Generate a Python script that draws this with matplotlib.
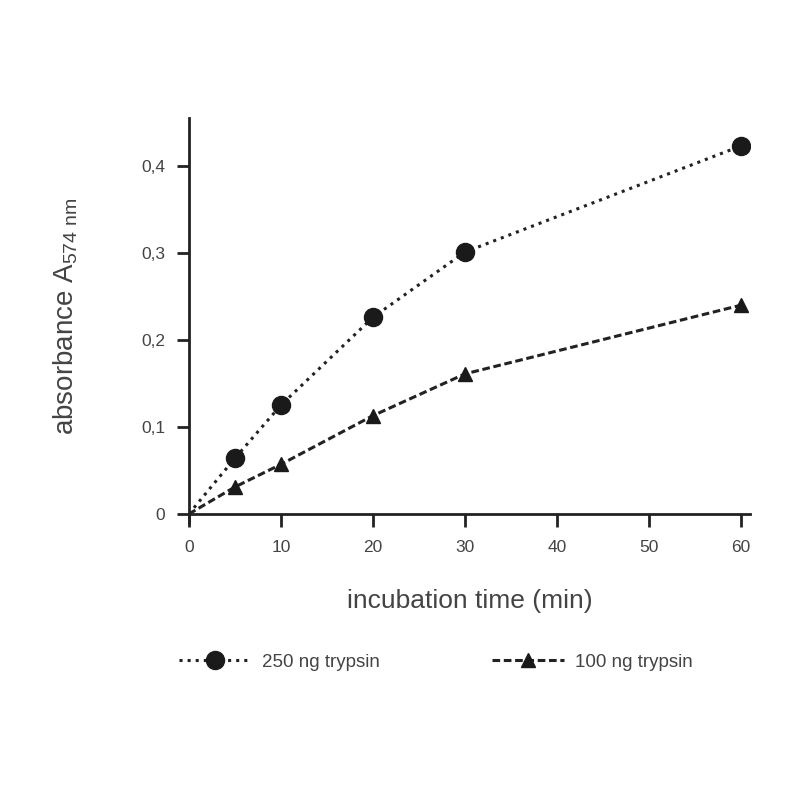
import numpy as np
import matplotlib.pyplot as plt

# incubation times (min) and absorbance readings
time_min = [0, 5, 10, 20, 30, 60]
abs_250 = [0.0, 0.064, 0.125, 0.226, 0.301, 0.423]
abs_100 = [0.0, 0.031, 0.057, 0.113, 0.161, 0.240]
labels = ['250 ng trypsin', '100 ng trypsin']
xticks = [0, 10, 20, 30, 40, 50, 60]
yticks = [0, 0.1, 0.2, 0.3, 0.4]
ytick_labels = ['0', '0,1', '0,2', '0,3', '0,4']

plt.rcParams['font.family'] = ['Liberation Sans', 'DejaVu Sans']
text_col = '#444444'

fig = plt.figure(figsize=(8, 8), dpi=100)
ax = fig.add_axes([0.236, 0.3575, 0.702, 0.495])

# line part (through origin) and markers (measured points only)
l1, = ax.plot(time_min, abs_250, ':', color='#222222', lw=2.2)
l2, = ax.plot(time_min, abs_100, '--', color='#222222', lw=2.2, dashes=(2.5, 1.2))
m1, = ax.plot(time_min[1:], abs_250[1:], 'o', color='#1a1a1a', ms=13)
m2, = ax.plot(time_min[1:], abs_100[1:], '^', color='#1a1a1a', ms=10)

ax.set_xlim(0, 61)
ax.set_ylim(0, 0.455)
ax.set_xticks(xticks)
ax.set_yticks(yticks)
ax.set_yticklabels(ytick_labels)
for sp in ['top', 'right']:
    ax.spines[sp].set_visible(False)
for sp in ['left', 'bottom']:
    ax.spines[sp].set_linewidth(2)
    ax.spines[sp].set_color('#222222')
ax.spines['left'].set_bounds(-0.01, 0.455)
ax.tick_params(width=2, length=9, color='#222222', labelsize=12.5,
               labelcolor=text_col)
ax.tick_params(axis='x', pad=10)
ax.tick_params(axis='y', pad=8)

ax.set_xlabel('incubation time (min)', fontsize=19, color=text_col, labelpad=24)
ax.set_ylabel(r'absorbance $\mathregular{A_{574\ nm}}$', fontsize=20,
              color=text_col, labelpad=44)

fig.legend([(l1, m1), (l2, m2)], labels, loc='center', ncol=2,
           bbox_to_anchor=(0.545, 0.172), frameon=False, fontsize=13.5,
           labelcolor=text_col, handlelength=3.8, columnspacing=6,
           handletextpad=0.6)

fig.savefig('out.png', dpi=100)
